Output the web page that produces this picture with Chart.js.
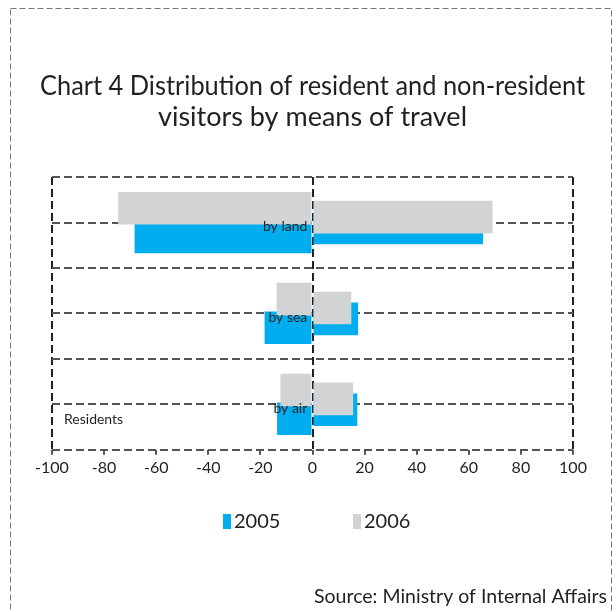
<!DOCTYPE html>
<html>
<head>
<meta charset="utf-8">
<script src="https://cdn.jsdelivr.net/npm/chart.js@4.4.1/dist/chart.umd.min.js"></script>
<style>
  html, body { margin: 0; padding: 0; background: #fff; }
  #wrap { width: 616px; height: 612px; }
</style>
</head>
<body>
<div id="wrap"><canvas id="travelChart" width="616" height="612"></canvas></div>
<script>
// Share of visitors (%) by means of travel; residents plotted to the left
const modes = ['by land', 'by sea', 'by air'];
const residents2005 = [-68.3, -18.4, -13.6];
const residents2006 = [-74.6, -13.8, -12.3];
const nonResidents2005 = [65.5, 17.5, 17.2];
const nonResidents2006 = [69.1, 14.9, 15.6];
const xLimits = [-100, 100];
const xStep = 20;

const BLUE = '#00AEEF';
const GREY = '#D1D3D4';
const INK = '#231F20';
const FONT = 'Lato, "Open Sans", sans-serif';

Chart.defaults.font.family = FONT;
Chart.defaults.color = INK;

// dashed page frame, side label, year key and source line
const decorations = {
  id: 'decorations',
  beforeDraw(chart) {
    const ctx = chart.ctx;
    ctx.save();
    ctx.strokeStyle = '#777';
    ctx.lineWidth = 1;
    ctx.setLineDash([6, 3]);
    ctx.strokeRect(10.5, 8.5, 601, 640);
    ctx.restore();
  },
  afterDraw(chart) {
    const ctx = chart.ctx;
    const area = chart.chartArea;
    ctx.save();
    ctx.fillStyle = INK;
    ctx.textBaseline = 'middle';

    ctx.font = '14px ' + FONT;
    ctx.textAlign = 'left';
    ctx.fillText('Residents', area.left + 12, area.bottom - 30);

    // year key: 2005 first, then 2006
    const keys = [chart.data.datasets[3], chart.data.datasets[0]];
    ctx.font = '20px ' + FONT;
    let x = 223;
    keys.forEach(ds => {
      ctx.fillStyle = ds.backgroundColor;
      ctx.fillRect(x, 514, 8, 15);
      ctx.fillStyle = INK;
      ctx.fillText(ds.label, x + 11, 522);
      x += 130;
    });

    ctx.font = '19.5px ' + FONT;
    ctx.textAlign = 'right';
    ctx.fillText('Source: Ministry of Internal Affairs', 607, 597);
    ctx.restore();
  }
};

const dashed = [8, 4];

// All four series share one category axis (four slots per mode).
// Per-series category/bar percentages pull the residents pair apart and
// let the non-residents pair overlap, with the 2006 bars drawn on top.
const residentsBar = { categoryPercentage: 0.42, barPercentage: 3.41 };
const nonResidentsBar = { categoryPercentage: 0.478, barPercentage: 3 };

new Chart(document.getElementById('travelChart'), {
  type: 'bar',
  data: {
    labels: modes,
    datasets: [
      { label: '2006', data: residents2006, backgroundColor: GREY, ...residentsBar },
      { label: '2006', data: nonResidents2006, backgroundColor: GREY, ...nonResidentsBar },
      { label: '2005', data: nonResidents2005, backgroundColor: BLUE, ...nonResidentsBar },
      { label: '2005', data: residents2005, backgroundColor: BLUE, ...residentsBar }
    ]
  },
  options: {
    indexAxis: 'y',
    responsive: false,
    animation: false,
    layout: { padding: { left: 40, right: 31, top: 0, bottom: 132 } },
    plugins: {
      legend: { display: false },
      tooltip: { enabled: false },
      title: {
        display: true,
        text: ['Chart 4 Distribution of resident and non-resident', 'visitors by means of travel'],
        color: INK,
        font: { size: 27, weight: 'normal', lineHeight: 1.15 },
        padding: { top: 71, bottom: 44 }
      }
    },
    scales: {
      x: {
        min: xLimits[0],
        max: xLimits[1],
        ticks: { stepSize: xStep, font: { size: 16 }, color: INK },
        grid: {
          color: c => (c.tick && [xLimits[0], 0, xLimits[1]].includes(c.tick.value)) ? '#222' : 'rgba(0,0,0,0)',
          lineWidth: 2,
          tickColor: '#555',
          tickWidth: 2,
          tickLength: 5
        },
        border: { display: false, dash: dashed },
        // plot sits a little inside the title width
        afterFit(scale) {
          scale.paddingLeft = 52;
          scale.paddingRight = 43;
        }
      },
      // mode labels sit just left of the zero line, over the bars
      y: {
        type: 'category',
        position: { x: -2 },
        offset: true,
        grid: { offset: true, color: '#555', lineWidth: 2, drawTicks: false },
        border: { display: false, dash: dashed },
        ticks: { font: { size: 14 }, color: INK, labelOffset: 4, z: 1 }
      },
      // second set of dashed rules through the middle of each mode
      y2: {
        type: 'category',
        labels: modes,
        position: { x: 0 },
        offset: true,
        grid: { offset: false, color: '#555', lineWidth: 2, drawTicks: false },
        border: { display: false, dash: dashed },
        ticks: { display: false }
      }
    }
  },
  plugins: [decorations]
});
</script>
</body>
</html>
